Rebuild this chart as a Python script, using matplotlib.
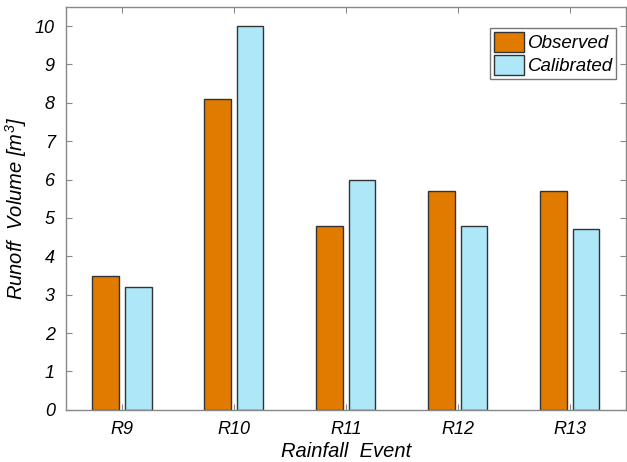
import matplotlib
matplotlib.use("Agg")
import matplotlib.pyplot as plt
import numpy as np

plt.rcParams['font.family'] = ['Liberation Sans', 'DejaVu Sans']
plt.rcParams['font.style'] = 'italic'
plt.rcParams['mathtext.fontset'] = 'custom'
plt.rcParams['mathtext.it'] = 'Liberation Sans:italic'
plt.rcParams['mathtext.rm'] = 'Liberation Sans:italic'

# data
events = ["R9", "R10", "R11", "R12", "R13"]
observed = [3.5, 8.1, 4.8, 5.7, 5.7]
calibrated = [3.2, 10.0, 6.0, 4.8, 4.7]

fig = plt.figure(figsize=(6.27, 4.62), dpi=100)
ax = fig.add_axes([0.105, 0.113, 0.893, 0.872])

x = np.arange(len(events))
w = 0.24
edge = '#333333'
ax.bar(x - 0.145, observed, w, color='#E07B00', edgecolor=edge, linewidth=1.0, label='Observed')
ax.bar(x + 0.145, calibrated, w, color='#AEE8F8', edgecolor=edge, linewidth=1.0, label='Calibrated')

ax.set_xlim(-0.5, len(events) - 0.5)
ax.set_ylim(0, 10.5)
ax.set_xticks(x)
ax.set_xticklabels(events)
ax.set_yticks(range(0, 11))

ax.tick_params(direction='in', top=True, right=True, length=4, color='#888888',
               labelsize=13, pad=8)
for s in ax.spines.values():
    s.set_color('#888888')
    s.set_linewidth(1.0)

ax.set_xlabel("Rainfall  Event", fontsize=14.5, labelpad=3)
ax.set_ylabel("Runoff  Volume [$m^{3}$]", fontsize=14.5, labelpad=4)

leg = ax.legend(loc='upper right', fontsize=13.5, frameon=True, fancybox=False,
                edgecolor='#555555', handlelength=1.6, handleheight=1.25,
                handletextpad=0.2, borderpad=0.2, labelspacing=0.15,
                bbox_to_anchor=(1.0, 0.97))
leg.get_frame().set_linewidth(1.0)

fig.savefig("out.png", dpi=100)
